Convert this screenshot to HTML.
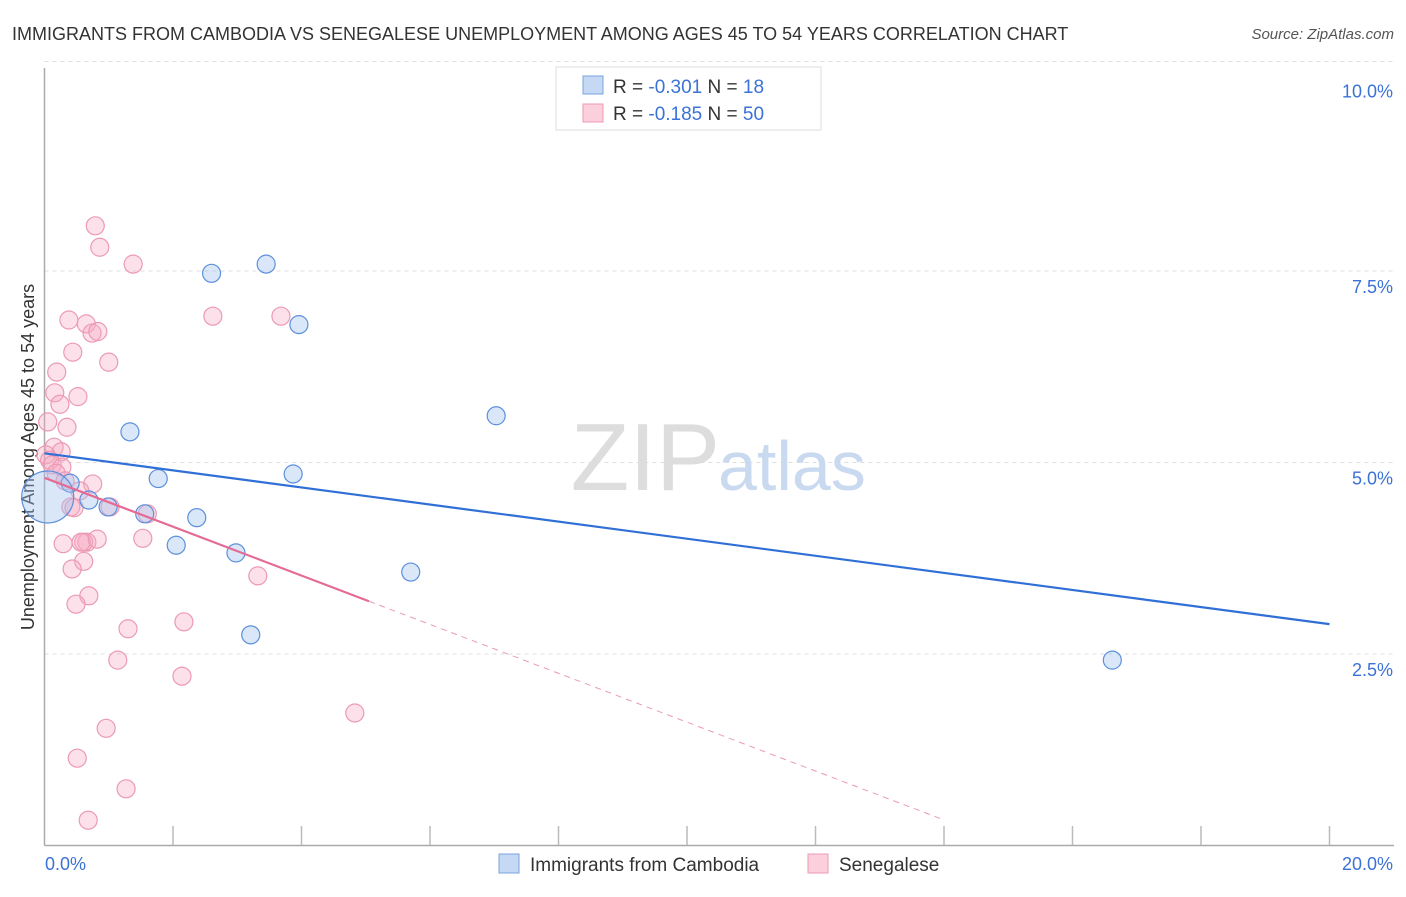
<!DOCTYPE html>
<html><head><meta charset="utf-8"><style>
body{margin:0;background:#fff;font-family:"Liberation Sans",sans-serif;}
svg text{font-family:"Liberation Sans",sans-serif;}
</style></head><body>
<svg width="1406" height="892" xmlns="http://www.w3.org/2000/svg">
<text x="12" y="40" font-size="18" fill="#333">IMMIGRANTS FROM CAMBODIA VS SENEGALESE UNEMPLOYMENT AMONG AGES 45 TO 54 YEARS CORRELATION CHART</text>
<text x="1394" y="39" font-size="15" fill="#555" font-style="italic" text-anchor="end">Source: ZipAtlas.com</text>
<g id="grid"></g>
<text x="720" y="490" font-size="96" fill="#ddd" text-anchor="end" font-family="Liberation Serif">ZIP</text>
<text x="718" y="490" font-size="70" fill="#c9d9ef">atlas</text>
<line x1="44.5" y1="68" x2="44.5" y2="845.5" stroke="#aaa" stroke-width="1.5"/>
<line x1="44.5" y1="845.5" x2="1394" y2="845.5" stroke="#aaa" stroke-width="1.5"/>
<g id="ticks"></g>
<text x="45" y="870" font-size="18" fill="#3b72d6">0.0%</text>
<text x="1393" y="870" font-size="18" fill="#3b72d6" text-anchor="end">20.0%</text>
<text transform="translate(34,457) rotate(-90)" font-size="18" fill="#333" text-anchor="middle">Unemployment Among Ages 45 to 54 years</text>
<g id="pink"></g><g id="blue"></g><g id="lines"></g>
<g>
<rect x="556" y="67" width="265" height="63" fill="#fff" stroke="#ddd"/>
<rect x="583" y="76" width="20" height="18" fill="#c5d9f5" stroke="#7aa3e0"/>
<rect x="583" y="104" width="20" height="18" fill="#fbd0dc" stroke="#ec9ab3"/>
<text x="613" y="93" font-size="19" fill="#333">R = <tspan fill="#3b72d6">-0.301</tspan>   N = <tspan fill="#3b72d6"> 18</tspan></text>
<text x="613" y="120" font-size="19" fill="#333">R = <tspan fill="#3b72d6">-0.185</tspan>   N = <tspan fill="#3b72d6">50</tspan></text>
</g>
<g>
<rect x="499" y="854" width="20" height="19" fill="#c5d9f5" stroke="#7aa3e0"/>
<text x="530" y="871" font-size="19" fill="#333">Immigrants from Cambodia</text>
<rect x="808" y="854" width="20" height="19" fill="#fbd0dc" stroke="#ec9ab3"/>
<text x="839" y="871" font-size="19" fill="#333">Senegalese</text>
</g>
</svg>
<script>
const yTicks=[2.5,5.0,7.5,10.0];
const xTicks=[2,4,6,8,10,12,14,16,18,20];
const blueX=[2.6,3.45,3.96,7.03,1.33,1.77,3.87,0.40,0.69,0.99,1.56,2.37,2.05,2.98,3.21,5.70,16.62,0.05];
const blueY=[7.47,7.59,6.80,5.61,5.40,4.79,4.85,4.73,4.51,4.42,4.33,4.28,3.92,3.82,2.75,3.57,2.42,4.55];
const blueR=[9,9,9,9,9,9,9,9,9,9,9,9,9,9,9,9,9,26];
const pinkX=[0.79,0.86,1.38,2.62,3.68,0.38,0.65,0.74,0.83,0.44,1.0,0.19,0.16,0.52,0.24,0.05,0.35,0.15,0.26,0.02,0.08,0.12,0.27,0.18,0.32,0.75,0.55,0.41,0.46,1.02,1.6,0.29,0.66,0.61,0.82,1.53,0.57,0.61,0.43,0.69,0.49,1.3,2.17,3.32,2.14,1.14,4.83,0.96,0.51,1.27,0.68];
const pinkY=[8.09,7.81,7.59,6.91,6.91,6.86,6.81,6.69,6.71,6.44,6.31,6.18,5.91,5.86,5.76,5.53,5.46,5.20,5.14,5.10,5.03,4.97,4.94,4.86,4.76,4.72,4.63,4.42,4.41,4.42,4.33,3.94,3.96,3.96,4.0,4.01,3.96,3.71,3.61,3.26,3.15,2.83,2.92,3.52,2.21,2.42,1.73,1.53,1.14,0.74,0.33];
const blueFit=[5.12,-0.1115];
const pinkFit=[4.80,-0.319];
const pinkSolidEnd=5.05, pinkDashEnd=14.0;
const X=v=>44.5+v*64.25, Y=v=>845.5-v*76.6;
const NS="http://www.w3.org/2000/svg";
function mk(t,p,a){const e=document.createElementNS(NS,t);for(const k in a)e.setAttribute(k,a[k]);p.appendChild(e);return e;}
const grid=document.getElementById('grid');
yTicks.forEach(v=>{const l=mk('line',grid,{x1:44.5,x2:1394,y1:Y(v)-(v==10?18:0),y2:Y(v)-(v==10?18:0),stroke:'#ddd','stroke-dasharray':'4,4'});


const t=mk('text',grid,{x:1393,y:Y(v)+(v==10?0:24)-(v==10?0:0)+ (v==10?-0:0),'font-size':18,fill:'#3b72d6','text-anchor':'end'});
t.setAttribute('y',Y(v)+ (v==10?24-6:22));
t.textContent=v.toFixed(1)+'%';

});
const tk=document.getElementById('ticks');
xTicks.forEach(v=>{const l=mk('line',tk,{x1:X(v),x2:X(v),y1:826,y2:845,stroke:'#bbb','stroke-width':1.5});

});
const pg=document.getElementById('pink');
pinkX.forEach((x,i)=>{const c=mk('circle',pg,{cx:X(x),cy:Y(pinkY[i]),r:9,fill:'rgba(246,170,195,0.35)',stroke:'#ec9ab3','stroke-width':1.2});

});
const bg=document.getElementById('blue');
blueX.forEach((x,i)=>{const c=mk('circle',bg,{cx:X(x),cy:Y(blueY[i]),r:blueR[i],fill:'rgba(160,195,240,0.4)',stroke:'#5d8fdc','stroke-width':1.2});

});
const lg=document.getElementById('lines');
const b=mk('line',lg,{x1:X(0),y1:Y(blueFit[0]),x2:X(20),y2:Y(blueFit[0]+blueFit[1]*20),stroke:'#2f6fd6','stroke-width':2.2});


const p=mk('line',lg,{x1:X(0),y1:Y(pinkFit[0]),x2:X(pinkSolidEnd),y2:Y(pinkFit[0]+pinkFit[1]*pinkSolidEnd),stroke:'#e56b94','stroke-width':2.2});


const d=mk('line',lg,{x1:X(pinkSolidEnd),y1:Y(pinkFit[0]+pinkFit[1]*pinkSolidEnd),x2:X(pinkDashEnd),y2:Y(pinkFit[0]+pinkFit[1]*pinkDashEnd),stroke:'#eb9ab3','stroke-width':1,'stroke-dasharray':'6,5'});


</script>
</body></html>
